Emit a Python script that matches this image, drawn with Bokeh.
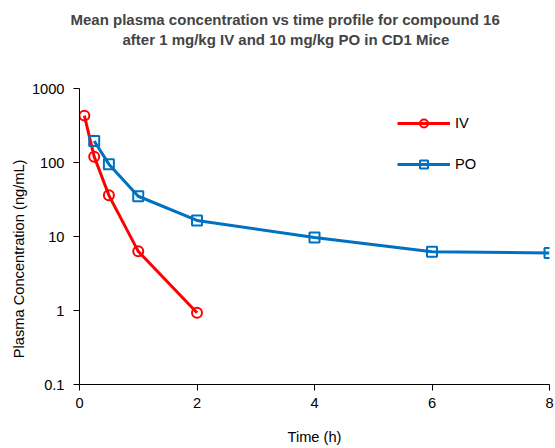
from bokeh.plotting import figure
from bokeh.models import (Legend, LegendItem, FixedTicker, CustomJSTickFormatter, Range1d, Title)
from bokeh.embed import file_html
from bokeh.resources import INLINE

# Data
iv_time = [0.083, 0.25, 0.5, 1, 2]
iv_conc = [430, 120, 36, 6.3, 0.93]
po_time = [0.25, 0.5, 1, 2, 4, 6, 8]
po_conc = [195, 95, 35, 16.5, 9.7, 6.2, 6.0]
x_ticks = [0, 2, 4, 6, 8]
y_ticks = [0.1, 1, 10, 100, 1000]
title_line1 = "Mean plasma concentration vs time profile for compound 16"
title_line2 = "after 1 mg/kg IV and 10 mg/kg PO in CD1 Mice"

FONT = "Liberation Sans"
RED = "#FF0000"
BLUE = "#0070C0"

p = figure(width=555, height=448, y_axis_type="log",
           x_range=Range1d(0, 8), y_range=Range1d(0.1, 1000),
           output_backend="svg", toolbar_location=None,
           min_border_left=79, min_border_right=6, min_border_top=88, min_border_bottom=64)

# title: outermost line 1, then line 2, then an invisible spacer next to the frame
p.title.text = title_line1
p.title.align = "left"
p.title.offset = -9
p.title.text_font = FONT
p.title.text_font_size = "15px"
p.title.text_font_style = "bold"
p.title.standoff = 2
spacer = Title(text="\u00a0", text_font=FONT, text_font_size="15px", standoff=22)
p.add_layout(spacer, "above")
t2 = Title(text=title_line2, align="left", offset=43, text_font=FONT,
           text_font_size="15px", text_font_style="bold", standoff=0)
p.add_layout(t2, "above")

p.outline_line_color = None
p.grid.grid_line_color = None
p.background_fill_color = "white"

for ax in (p.xaxis, p.yaxis):
    ax.axis_line_color = "black"
    ax.major_tick_line_color = "black"
    ax.major_tick_in = 0
    ax.major_tick_out = 6
    ax.minor_tick_line_color = None
    ax.major_label_text_font = FONT
    ax.major_label_text_font_size = "11pt"
    ax.major_label_text_color = "black"
    ax.axis_label_text_font = FONT
    ax.axis_label_text_font_size = "11pt"
    ax.axis_label_text_font_style = "normal"
    ax.axis_label_text_color = "black"

p.xaxis.ticker = FixedTicker(ticks=x_ticks)
p.yaxis.ticker = FixedTicker(ticks=y_ticks)
p.yaxis.formatter = CustomJSTickFormatter(code="return String(parseFloat(tick.toPrecision(6)));")
p.xaxis.major_label_standoff = 7
p.yaxis.major_label_standoff = 9
p.xaxis.axis_label = "Time (h)"
p.xaxis.axis_label_standoff = 18
# trailing no-break spaces shift the centred label down, as in the reference
p.yaxis.axis_label = "Plasma Concentration (ng/mL)" + "\u00a0" * 11
p.yaxis.axis_label_standoff = 2

iv_line = p.line(iv_time, iv_conc, line_color=RED, line_width=3)
iv_mark = p.scatter(iv_time, iv_conc, marker="circle", size=10, fill_color=None,
                    line_color=RED, line_width=2)
po_line = p.line(po_time, po_conc, line_color=BLUE, line_width=3)
po_mark = p.scatter(po_time, po_conc, marker="square", size=10, fill_color=None,
                    line_color=BLUE, line_width=2)

legend = Legend(items=[LegendItem(label="IV", renderers=[iv_line, iv_mark]),
                       LegendItem(label="PO", renderers=[po_line, po_mark])],
                location=(318, 210), orientation="vertical",
                glyph_width=53, glyph_height=20, label_height=20, spacing=21,
                label_standoff=5, padding=0, margin=0,
                border_line_color=None, background_fill_alpha=0,
                label_text_font=FONT, label_text_font_size="11pt", label_text_color="black")
p.add_layout(legend)

open("out.html", "w").write(file_html(p, INLINE))
